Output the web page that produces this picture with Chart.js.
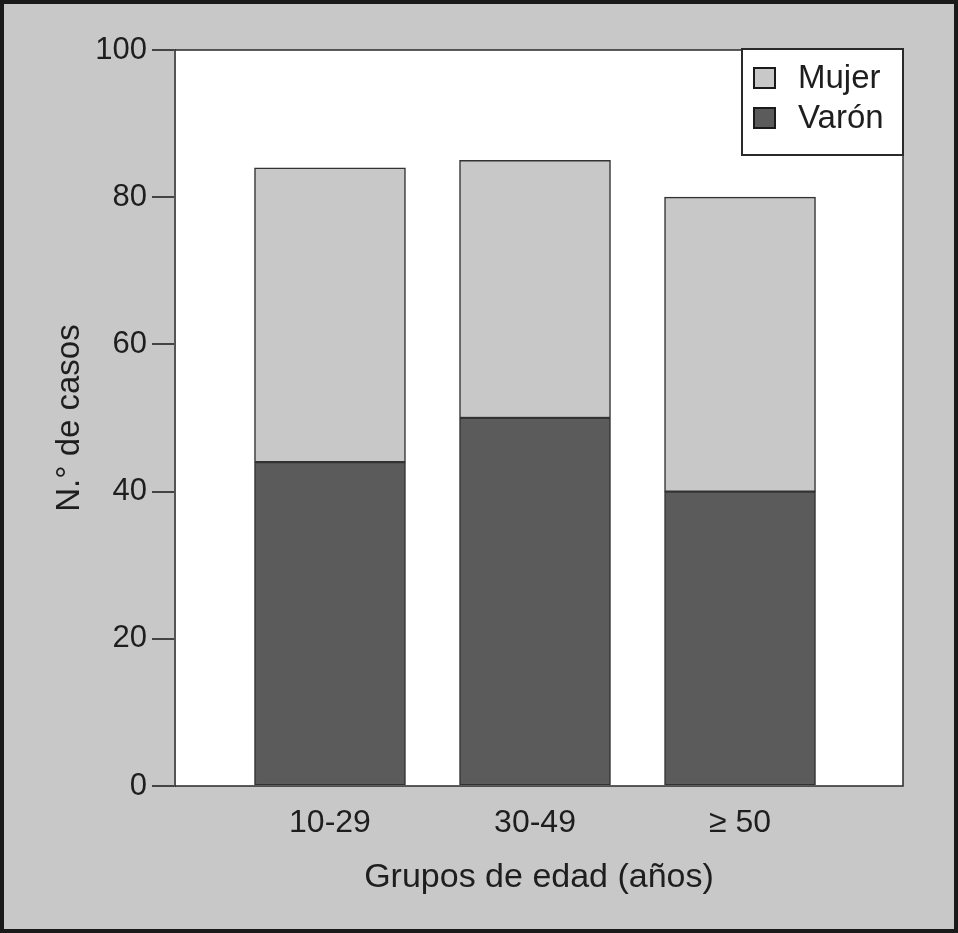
<!DOCTYPE html>
<html>
<head>
<meta charset="utf-8">
<script src="https://cdn.jsdelivr.net/npm/chart.js@4"></script>
<style>
  html, body { margin: 0; padding: 0; background: #c8c8c8; }
  #wrap { width: 958px; height: 933px; position: relative; }
</style>
</head>
<body>
<div id="wrap"><canvas id="chart" width="958" height="933"></canvas></div>
<script>
// data
const groups = ['10-29', '30-49', '\u2265 50'];
const groupPos = [1, 2, 3];
const varon = [44, 50, 40];
const mujer = [40, 35, 40];
const yTicks = [0, 20, 40, 60, 80, 100];

const FONT = "'Liberation Sans', Arial, sans-serif";
const textColor = '#1e1e1e';

// page background, white plot area, frame, legend
const framePlugin = {
    id: 'frame',
    beforeDraw(chart) {
        const ctx = chart.ctx;
        const a = chart.chartArea;
        ctx.save();
        ctx.fillStyle = '#c8c8c8';
        ctx.fillRect(0, 0, chart.width, chart.height);
        ctx.fillStyle = '#ffffff';
        ctx.fillRect(a.left, a.top, a.right - a.left, a.bottom - a.top);
        ctx.restore();
    },
    afterDraw(chart) {
        const ctx = chart.ctx;
        const a = chart.chartArea;
        ctx.save();
        // plot frame top / right
        ctx.strokeStyle = '#2a2a2a';
        ctx.lineWidth = 1.5;
        ctx.beginPath();
        ctx.moveTo(a.left, a.top);
        ctx.lineTo(a.right, a.top);
        ctx.lineTo(a.right, a.bottom);
        ctx.lineTo(a.left, a.bottom);
        ctx.stroke();
        // outer border
        ctx.strokeStyle = '#1a1a1a';
        ctx.lineWidth = 4;
        ctx.strokeRect(2, 2, chart.width - 4, chart.height - 4);

        // legend box, top right inside plot
        const w = 161, h = 106;
        const bx = a.right - w, by = a.top - 1;
        ctx.fillStyle = '#ffffff';
        ctx.fillRect(bx, by, w, h);
        ctx.strokeStyle = '#2a2a2a';
        ctx.lineWidth = 2;
        ctx.strokeRect(bx, by, w, h);
        const items = chart.data.datasets.slice().reverse();
        ctx.font = '33px ' + FONT;
        ctx.textBaseline = 'middle';
        items.forEach((ds, i) => {
            const cy = by + 29 + i * 40;
            ctx.fillStyle = ds.backgroundColor;
            ctx.fillRect(bx + 12, cy - 10, 21, 20);
            ctx.strokeStyle = '#1a1a1a';
            ctx.lineWidth = 2;
            ctx.strokeRect(bx + 12, cy - 10, 21, 20);
            ctx.fillStyle = textColor;
            ctx.fillText(ds.label, bx + 56, cy + 1);
        });
        ctx.restore();
    }
};

const ctx = document.getElementById('chart').getContext('2d');
new Chart(ctx, {
    type: 'bar',
    data: {
        datasets: [
            {
                label: 'Var\u00f3n',
                data: groupPos.map((x, i) => ({ x: x, y: varon[i] })),
                backgroundColor: '#5b5b5b',
                borderColor: '#333333',
                borderWidth: 1.5,
                borderSkipped: false,
                barThickness: 151
            },
            {
                label: 'Mujer',
                data: groupPos.map((x, i) => ({ x: x, y: mujer[i] })),
                backgroundColor: '#c8c8c8',
                borderColor: '#333333',
                borderWidth: 1.5,
                borderSkipped: false,
                barThickness: 151
            }
        ]
    },
    options: {
        responsive: false,
        animation: false,
        layout: { padding: { left: 0, top: 50, right: 55, bottom: 0 } },
        plugins: {
            legend: { display: false },
            tooltip: { enabled: false }
        },
        scales: {
            x: {
                type: 'linear',
                stacked: true,
                offset: false,
                min: 0.244,
                max: 3.795,
                afterBuildTicks: (scale) => {
                    scale.ticks = groupPos.map(v => ({ value: v }));
                },
                afterFit: (scale) => { scale.height = 147; },
                grid: { display: false, drawTicks: false, offset: false },
                border: { display: false },
                ticks: {
                    padding: 18,
                    color: textColor,
                    font: { family: FONT, size: 32 },
                    callback: (v) => groups[groupPos.indexOf(v)]
                },
                title: {
                    display: true,
                    text: 'Grupos de edad (a\u00f1os)',
                    color: textColor,
                    font: { family: FONT, size: 34 },
                    padding: { top: 0, bottom: 35 }
                }
            },
            y: {
                stacked: true,
                min: 0,
                max: 100,
                afterBuildTicks: (scale) => {
                    scale.ticks = yTicks.map(v => ({ value: v }));
                },
                afterFit: (scale) => { scale.width = 175; },
                grid: {
                    drawOnChartArea: false,
                    tickLength: 23,
                    color: '#444444',
                    lineWidth: 2
                },
                border: { display: true, color: '#555555', width: 2 },
                ticks: {
                    padding: 5,
                    color: textColor,
                    font: { family: FONT, size: 31 }
                },
                title: {
                    display: true,
                    text: 'N.\u00b0 de casos',
                    color: textColor,
                    font: { family: FONT, size: 33 },
                    padding: { top: 50, bottom: 0 }
                }
            }
        }
    },
    plugins: [framePlugin]
});
</script>
</body>
</html>
